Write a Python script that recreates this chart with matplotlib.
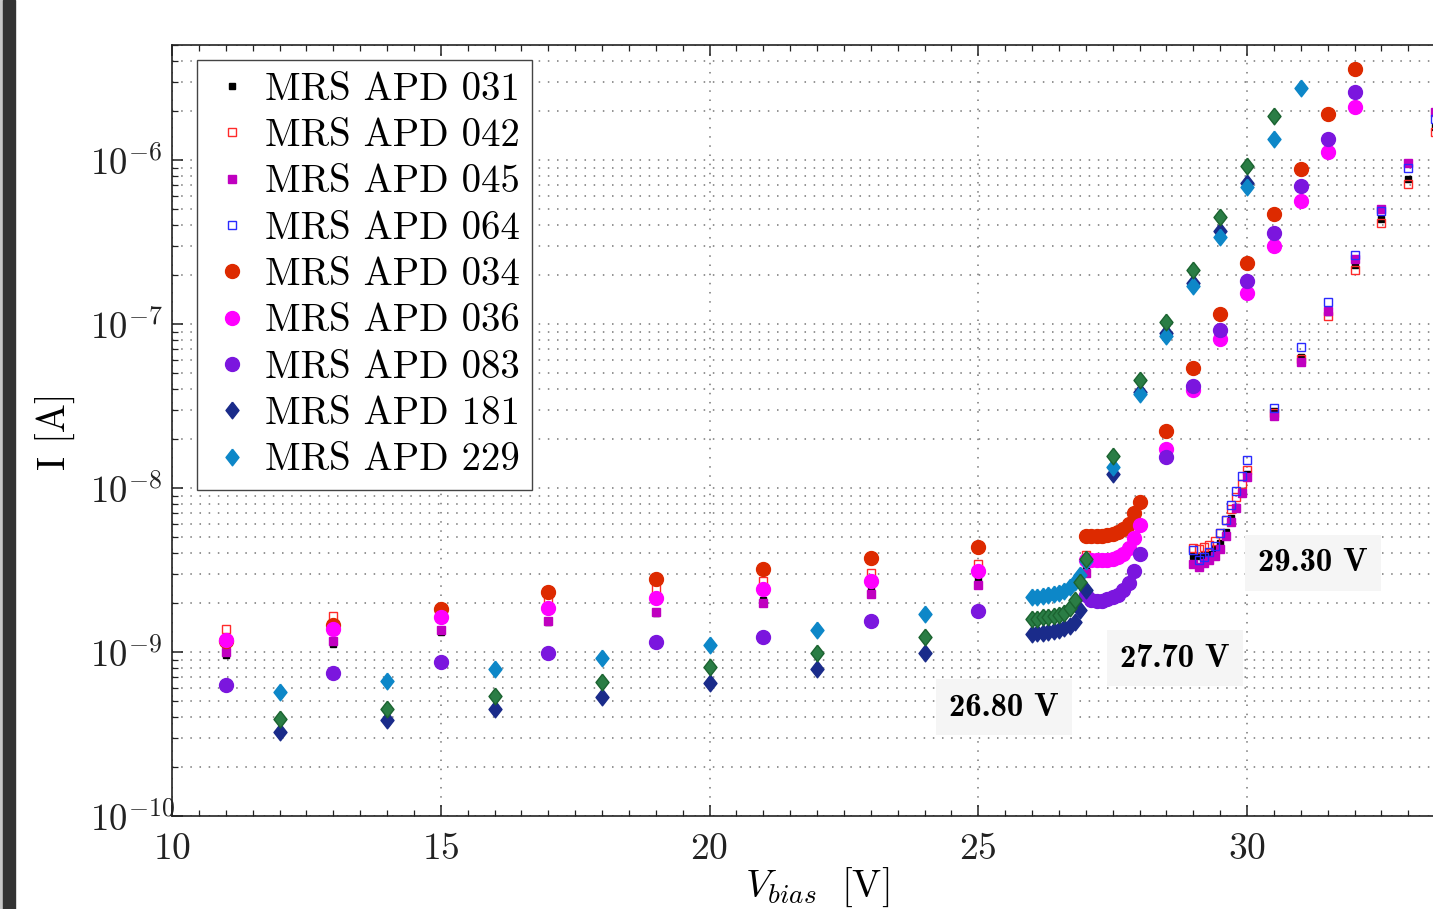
import matplotlib
matplotlib.use("Agg")
import matplotlib.pyplot as plt
from matplotlib.patches import Rectangle
from matplotlib.ticker import MultipleLocator, LogLocator, NullFormatter

plt.rcParams["font.family"] = "cmr10"
plt.rcParams["mathtext.fontset"] = "cm"
plt.rcParams["axes.formatter.use_mathtext"] = True
plt.rcParams["axes.unicode_minus"] = False

# ---------------- data (bias voltage [V], current [A]) ----------------
v_sq = [11, 13, 15, 17, 19, 21, 23, 25, 27,
        29.0, 29.1, 29.2, 29.3, 29.4, 29.5, 29.6, 29.7, 29.8, 29.9, 30.0,
        30.5, 31.0, 31.5, 32.0, 32.5, 33.0, 33.5]
i_031 = [0.96e-9, 1.12e-9, 1.33e-9, 1.52e-9, 1.72e-9, 2.07e-9, 2.37e-9, 2.79e-9, 3.31e-9,
         3.85e-9, 3.85e-9, 3.9e-9, 3.96e-9, 4.23e-9, 4.6e-9, 5.42e-9, 6.54e-9, 7.62e-9, 9.63e-9, 1.22e-8,
         2.96e-8, 6.32e-8, 1.18e-7, 2.29e-7, 4.35e-7, 7.62e-7, 1.58e-6]
i_042 = [1.38e-9, 1.66e-9, 1.8e-9, 2.1e-9, 2.42e-9, 2.7e-9, 3.05e-9, 3.44e-9, 3.9e-9,
         4.28e-9, 4.25e-9, 4.35e-9, 4.49e-9, 4.78e-9, 5.3e-9, 6.38e-9, 7.41e-9, 8.85e-9, 1.06e-8, 1.28e-8,
         2.85e-8, 6.1e-8, 1.12e-7, 2.13e-7, 4.11e-7, 7.15e-7, 1.49e-6]
i_045 = [1.0e-9, 1.16e-9, 1.36e-9, 1.54e-9, 1.75e-9, 1.99e-9, 2.26e-9, 2.56e-9, 3.05e-9,
         3.44e-9, 3.3e-9, 3.47e-9, 3.64e-9, 3.85e-9, 4.23e-9, 5.09e-9, 6.23e-9, 7.51e-9, 9.29e-9, 1.16e-8,
         2.75e-8, 5.89e-8, 1.2e-7, 2.48e-7, 5.0e-7, 9.55e-7, 1.97e-6]
v_064 = [29.0, 29.1, 29.2, 29.3, 29.4, 29.5, 29.6, 29.7, 29.8, 29.9, 30.0,
         30.5, 31.0, 31.5, 32.0, 32.5, 33.0, 33.5]
i_064 = [4.19e-9, 3.64e-9, 3.82e-9, 4.08e-9, 4.42e-9, 5.34e-9, 6.38e-9, 7.87e-9, 9.63e-9, 1.18e-8, 1.48e-8,
         3.09e-8, 7.27e-8, 1.37e-7, 2.64e-7, 4.9e-7, 8.98e-7, 1.77e-6]

v_circ = [11, 13, 15, 17, 19, 21, 23, 25,
          27.0, 27.1, 27.2, 27.3, 27.4, 27.5, 27.6, 27.7, 27.8, 27.9, 28.0,
          28.5, 29.0, 29.5, 30.0, 30.5, 31.0, 31.5, 32.0]
i_034 = [1.17e-9, 1.46e-9, 1.83e-9, 2.33e-9, 2.8e-9, 3.2e-9, 3.74e-9, 4.38e-9,
         5.09e-9, 5.09e-9, 5.09e-9, 5.1e-9, 5.15e-9, 5.25e-9, 5.36e-9, 5.6e-9, 6.0e-9, 7.0e-9, 8.2e-9,
         2.23e-8, 5.37e-8, 1.15e-7, 2.34e-7, 4.69e-7, 8.8e-7, 1.9e-6, 3.57e-6]
i_036 = [1.18e-9, 1.38e-9, 1.63e-9, 1.86e-9, 2.13e-9, 2.42e-9, 2.7e-9, 3.13e-9,
         3.64e-9, 3.64e-9, 3.64e-9, 3.64e-9, 3.65e-9, 3.68e-9, 3.78e-9, 3.96e-9, 4.29e-9, 4.93e-9, 5.94e-9,
         1.72e-8, 3.96e-8, 8.07e-8, 1.55e-7, 2.99e-7, 5.6e-7, 1.12e-6, 2.11e-6]
i_083 = [6.3e-10, 7.4e-10, 8.7e-10, 0.99e-9, 1.15e-9, 1.24e-9, 1.55e-9, 1.79e-9,
         2.23e-9, 2.07e-9, 2.05e-9, 2.06e-9, 2.1e-9, 2.16e-9, 2.23e-9, 2.39e-9, 2.62e-9, 3.13e-9, 3.96e-9,
         1.54e-8, 4.2e-8, 9.2e-8, 1.84e-7, 3.6e-7, 6.93e-7, 1.35e-6, 2.61e-6]

v_dia = [12, 14, 16, 18, 20, 22, 24,
         26.0, 26.1, 26.2, 26.3, 26.4, 26.5, 26.6, 26.7, 26.8, 26.9, 27.0,
         27.5, 28.0, 28.5, 29.0, 29.5, 30.0, 30.5, 31.0]
i_181 = [3.27e-10, 3.85e-10, 4.49e-10, 5.32e-10, 6.47e-10, 7.9e-10, 0.99e-9,
         1.28e-9, 1.3e-9, 1.31e-9, 1.32e-9, 1.34e-9, 1.36e-9, 1.4e-9, 1.44e-9, 1.53e-9, 1.8e-9, 2.39e-9,
         1.22e-8, 3.85e-8, 8.85e-8, 1.78e-7, 3.7e-7, 7.2e-7]
i_229 = [5.73e-10, 6.65e-10, 7.87e-10, 9.2e-10, 1.1e-9, 1.36e-9, 1.7e-9,
         2.16e-9, 2.18e-9, 2.21e-9, 2.23e-9, 2.26e-9, 2.3e-9, 2.37e-9, 2.48e-9, 2.68e-9, 2.95e-9, 3.6e-9,
         1.35e-8, 3.74e-8, 8.4e-8, 1.7e-7, 3.4e-7, 6.8e-7, 1.35e-6, 2.75e-6]
i_green = [3.9e-10, 4.49e-10, 5.42e-10, 6.56e-10, 8.1e-10, 0.99e-9, 1.24e-9,
           1.59e-9, 1.6e-9, 1.63e-9, 1.64e-9, 1.66e-9, 1.68e-9, 1.72e-9, 1.85e-9, 2.09e-9, 2.68e-9, 3.67e-9,
           1.57e-8, 4.56e-8, 1.03e-7, 2.13e-7, 4.51e-7, 9.2e-7, 1.86e-6]

breakdown_labels = ["26.80 V", "27.70 V", "29.30 V"]
breakdown_pos = [(25.48, 4.62e-10), (28.66, 9.19e-10), (31.22, 3.49e-9)]

# ---------------- figure ----------------
fig = plt.figure(figsize=(14.33, 9.09), dpi=100)
ax = fig.add_axes([0.12003, 0.10231, 0.90021, 0.84774])

diamond = [(0, 1), (0.78, 0), (0, -1), (-0.78, 0), (0, 1)]

# squares
ax.plot(v_sq, i_031, ls="none", marker="s", ms=5, mfc="black", mec="black", label="MRS APD 031")
ax.plot(v_sq, i_042, ls="none", marker="s", ms=5.5, mfc="none", mec="#ff2a2a", mew=1, label="MRS APD 042")
ax.plot(v_sq, i_045, ls="none", marker="s", ms=5.5, mfc="#c000c0", mec="#c000c0", label="MRS APD 045")
ax.plot(v_064, i_064, ls="none", marker="s", ms=5.5, mfc="none", mec="#2a2aff", mew=1, label="MRS APD 064")
# circles
ax.plot(v_circ, i_034, ls="none", marker="o", ms=10, mfc="#dd2a00", mec="#dd2a00", label="MRS APD 034")
ax.plot(v_circ, i_036, ls="none", marker="o", ms=10, mfc="#ff00ff", mec="#ff00ff", label="MRS APD 036")
ax.plot(v_circ, i_083, ls="none", marker="o", ms=10, mfc="#7b16de", mec="#7b16de", label="MRS APD 083")
# diamonds
ax.plot(v_dia[:len(i_181)], i_181, ls="none", marker=diamond, ms=12, mfc="#1a2b8a", mec="#1a2b8a", label="MRS APD 181")
ax.plot(v_dia, i_229, ls="none", marker=diamond, ms=12, mfc="#0d87c8", mec="#0d87c8", label="MRS APD 229")
ax.plot(v_dia[:len(i_green)], i_green, ls="none", marker=diamond, ms=12, mfc="#2a7d45", mec="#1b6330", mew=1)

ax.set_yscale("log")
ax.set_xlim(10, 34)
ax.set_ylim(1e-10, 5e-6)

ax.xaxis.set_major_locator(MultipleLocator(5))
ax.xaxis.set_minor_locator(MultipleLocator(0.5))
ax.yaxis.set_major_locator(LogLocator(base=10, numticks=20))
ax.yaxis.set_minor_locator(LogLocator(base=10, subs=range(2, 10), numticks=20))
ax.yaxis.set_minor_formatter(NullFormatter())

ax.tick_params(which="both", direction="in", top=True, right=False, colors="#222222")
ax.tick_params(which="major", length=8, width=1.1)
ax.tick_params(which="minor", length=4, width=0.9)
ax.tick_params(axis="x", which="major", pad=12, labelsize=27)
ax.tick_params(axis="y", which="major", pad=59, labelsize=26.5)
for lab in ax.get_yticklabels():
    lab.set_horizontalalignment("left")

ax.set_axisbelow(True)
ax.grid(which="major", axis="both", ls=(0, (1, 5)), lw=1.1, color="#777777")
ax.grid(which="minor", axis="y", ls=(0, (1, 5)), lw=1.1, color="#777777")

for sp in ax.spines.values():
    sp.set_color("#222222")
    sp.set_linewidth(1.2)

ax.set_xlabel(r"$V_{bias}\ \ [\mathrm{V}]$", fontsize=28, labelpad=0)
ax.set_ylabel("I [A]", fontsize=28, labelpad=10)

for txt, (xv, yv) in zip(breakdown_labels, breakdown_pos):
    ax.text(xv, yv, txt, fontsize=23.5, family="cmb10", ha="center", va="center",
            bbox=dict(boxstyle="square,pad=0.4", fc="#f5f5f5", ec="none"))

leg = ax.legend(loc="upper left", bbox_to_anchor=(197 / 1433, 1 - 60 / 909),
                bbox_transform=fig.transFigure, borderaxespad=0, fontsize=28,
                handlelength=1.2, handletextpad=0.25, borderpad=0.3, labelspacing=0.27,
                fancybox=False, framealpha=1, edgecolor="#444444")
leg.get_frame().set_linewidth(1.0)

# dark strip on the left edge
fig.patches.append(Rectangle((0, 0), 3 / 1433, 1, transform=fig.transFigure, color="#c8c8c8"))
fig.patches.append(Rectangle((3.3 / 1433, 0), 11.7 / 1433, 1, transform=fig.transFigure, color="#333333"))

fig.savefig("out.png", dpi=100)
